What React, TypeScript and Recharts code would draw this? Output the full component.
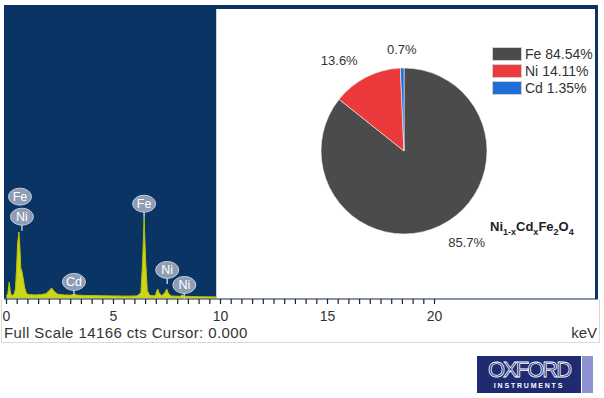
import {
  Area,
  AreaChart,
  Cell,
  Pie,
  PieChart,
  ReferenceArea,
  ReferenceDot,
  XAxis,
  YAxis,
} from 'recharts'

// EDS spectrum (keV, counts)
const spectrumKeV = [
  0.0, 0.06, 0.1, 0.13, 0.17, 0.22, 0.3, 0.36, 0.42, 0.47, 0.52, 0.58, 0.63, 0.67, 0.72, 0.78, 0.85,
  0.92, 1.0, 1.3, 1.6, 1.85, 2.0, 2.11, 2.22, 2.4, 2.7, 3.0, 3.15, 3.3, 3.8, 4.4, 5.0, 5.6, 6.1,
  6.28, 6.36, 6.43, 6.5, 6.58, 6.7, 6.95, 7.02, 7.07, 7.13, 7.25, 7.4, 7.49, 7.56, 7.7, 8.1, 8.23,
  8.35, 9.0, 9.8,
]
const spectrumCounts = [
  150, 250, 600, 830, 400, 200, 180, 260, 500, 1500, 2700, 3270, 2400, 1500, 1350, 1000, 550,
  300, 220, 200, 210, 260, 420, 540, 380, 230, 200, 190, 230, 190, 170, 160, 150, 140, 150,
  300, 1800, 3960, 1900, 400, 170, 160, 380, 490, 300, 160, 300, 490, 280, 150, 130, 200,
  130, 110, 100,
]
const fullScale = 14166

// element markers (balloon centres)
const markerLabels = ['Fe', 'Ni', 'Fe', 'Cd', 'Ni', 'Ni']
const markerKeV = [0.63, 0.72, 6.43, 3.15, 7.51, 8.31]
const markerCounts = [5000, 4020, 4655, 835, 1420, 686]
const markerStem = [false, true, true, true, true, true]

const tickLabels = [0, 5, 10, 15, 20]
const xTicks = Array.from({ length: 41 }, (_, i) => i * 0.5)

// pie: composition
const pieElements = ['Fe', 'Ni', 'Cd']
const piePercent = [85.7, 13.6, 0.7]
const pieLabels = ['85.7%', '13.6%', '0.7%']
const legendPercent = ['84.54%', '14.11%', '1.35%']
const pieColors = ['#4b4b4b', '#ec3a3c', '#1f6ed6']

const spectrum = spectrumKeV.map((keV, i) => ({ keV, counts: spectrumCounts[i] }))
const pieData = pieElements.map((name, i) => ({ name, value: piePercent[i] }))

const FONT = 'Arial, "Liberation Sans", sans-serif'
const BLUE = '#0a3463'
const RAD = Math.PI / 180

function Balloon(props: any) {
  const { cx, cy, label, stem } = props
  return (
    <g>
      {stem && <line x1={cx} y1={cy + 8} x2={cx} y2={cy + 14} stroke="#b9c6d8" strokeWidth={1.5} />}
      <ellipse cx={cx} cy={cy} rx={11.5} ry={8.5} fill="#8f9db4" stroke="#c3cddb" strokeWidth={1} />
      <text x={cx} y={cy + 4.5} textAnchor="middle" fontSize={12.5} fontFamily={FONT} fill="#ffffff">
        {label}
      </text>
    </g>
  )
}

function renderTick(props: any) {
  const { x, y, payload } = props
  if (!tickLabels.includes(payload.value)) return <g />
  return (
    <text x={x} y={y + 15} textAnchor="middle" fontSize={14} fontFamily={FONT} fill="#333">
      {payload.value}
    </text>
  )
}

function renderPieLabel(props: any) {
  const { cx, cy, midAngle, outerRadius, index } = props
  const r = outerRadius + 19
  const x = cx + r * Math.cos(-midAngle * RAD)
  const y = cy + r * Math.sin(-midAngle * RAD)
  const anchor = Math.abs(x - cx) < 12 ? 'middle' : x > cx ? 'start' : 'end'
  return (
    <text x={x} y={y} textAnchor={anchor} dominantBaseline="central" fontSize={13} fontFamily={FONT} fill="#333">
      {pieLabels[index]}
    </text>
  )
}

export default function App() {
  return (
    <div style={{ position: 'absolute', left: 0, top: 0, width: 604, height: 398, background: '#fff', fontFamily: FONT }}>
      {/* faint frame below the axis */}
      <div
        style={{
          position: 'absolute',
          left: 1,
          top: 299,
          width: 597,
          height: 43,
          border: '1px solid #dadada',
          borderTop: 'none',
        }}
      />
      <div style={{ position: 'absolute', left: 0, top: 0 }}>
        <AreaChart width={604} height={398} data={spectrum} margin={{ top: 9, right: 6, bottom: 79, left: 4 }}>
          <XAxis
            dataKey="keV"
            type="number"
            domain={[-0.117, 27.64]}
            ticks={xTicks}
            interval={0}
            tick={renderTick}
            tickSize={5}
            tickLine={{ stroke: '#222', strokeWidth: 1.2 }}
            axisLine={{ stroke: '#5d7088', strokeWidth: 1.5 }}
            height={20}
            allowDataOverflow
          />
          <YAxis hide type="number" domain={[0, fullScale]} allowDataOverflow />
          <ReferenceArea x1={-0.117} x2={9.8} y1={0} y2={fullScale} fill={BLUE} fillOpacity={1} stroke="none" />
          <Area
            type="linear"
            dataKey="counts"
            stroke="#b9c400"
            strokeWidth={1}
            fill="#cbd61c"
            fillOpacity={1}
            isAnimationActive={false}
          />
          {markerLabels.map((label, i) => (
            <ReferenceDot
              key={i}
              x={markerKeV[i]}
              y={markerCounts[i]}
              r={0}
              shape={(p: any) => <Balloon {...p} label={label} stem={markerStem[i]} />}
            />
          ))}
        </AreaChart>
      </div>

      {/* blue frame: top strip + right edge */}
      <div
        style={{
          position: 'absolute',
          left: 4,
          top: 5,
          width: 591,
          height: 290,
          borderTop: `4px solid ${BLUE}`,
          borderRight: `3px solid ${BLUE}`,
        }}
      />

      <div style={{ position: 'absolute', left: 217, top: 9 }}>
        <PieChart width={377} height={289} margin={{ top: 0, right: 0, bottom: 0, left: 0 }}>
          <Pie
            data={pieData}
            dataKey="value"
            cx={187}
            cy={142}
            outerRadius={83}
            startAngle={90}
            endAngle={-270}
            stroke="#f2f2f2"
            strokeWidth={0.6}
            label={renderPieLabel}
            labelLine={false}
            isAnimationActive={false}
          >
            {pieData.map((d, i) => (
              <Cell key={d.name} fill={pieColors[i]} />
            ))}
          </Pie>
        </PieChart>
      </div>

      {/* legend */}
      <div style={{ position: 'absolute', left: 492, top: 46, fontSize: 14, color: '#333', whiteSpace: 'nowrap' }}>
        {pieElements.map((el, i) => (
          <div key={el} style={{ display: 'flex', alignItems: 'center', height: 16.7 }}>
            <div
              style={{
                width: 28,
                height: 12,
                background: pieColors[i],
                border: '1px solid #d0d0d0',
                marginRight: 3,
              }}
            />
            <span>
              {el} {legendPercent[i]}
            </span>
          </div>
        ))}
      </div>

      <div
        style={{ position: 'absolute', left: 490, top: 219, fontSize: 13, fontWeight: 'bold', color: '#222' }}
      >
        Ni<sub style={{ fontSize: 9 }}>1-x</sub>Cd<sub style={{ fontSize: 9 }}>x</sub>Fe
        <sub style={{ fontSize: 9 }}>2</sub>O<sub style={{ fontSize: 9 }}>4</sub>
      </div>

      <div
        style={{
          position: 'absolute',
          left: 4,
          top: 325,
          fontSize: 15,
          lineHeight: '15px',
          letterSpacing: 0.4,
          color: '#333',
        }}
      >
        Full Scale 14166 cts Cursor: 0.000
      </div>
      <div style={{ position: 'absolute', right: 7, top: 325, fontSize: 15, lineHeight: '15px', color: '#333' }}>
        keV
      </div>

      {/* logo */}
      <div
        style={{
          position: 'absolute',
          left: 477,
          top: 356,
          width: 104,
          height: 37,
          background: '#1e2a72',
          color: '#fff',
          textAlign: 'center',
        }}
      >
        <div
          style={{
            fontSize: 22,
            lineHeight: '22px',
            marginTop: 3,
            letterSpacing: -2,
            color: 'transparent',
            WebkitTextStroke: '0.8px #ffffff',
          }}
        >
          OXFORD
        </div>
        <div style={{ fontSize: 7, fontWeight: 'bold', letterSpacing: 1.8, marginTop: 1 }}>INSTRUMENTS</div>
      </div>
      <div style={{ position: 'absolute', left: 582, top: 356, width: 11, height: 37, background: '#8e92d0' }} />
    </div>
  )
}
